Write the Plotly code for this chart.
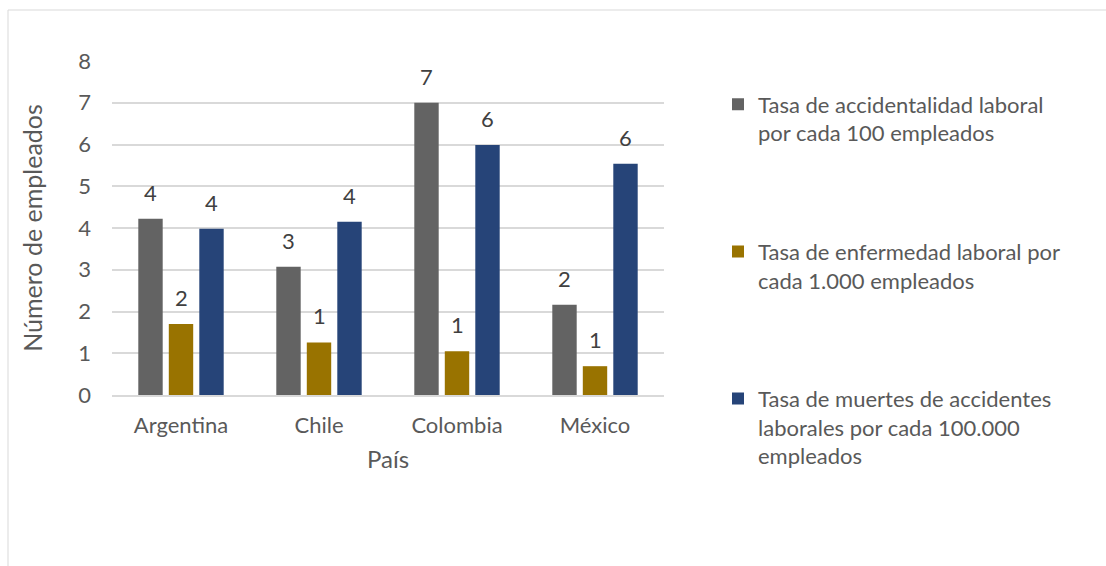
import plotly.graph_objects as go

# Data
paises = ["Argentina", "Chile", "Colombia", "México"]
accidentalidad = [4.22, 3.07, 7.00, 2.16]
enfermedad = [1.70, 1.26, 1.05, 0.69]
muertes = [3.98, 4.15, 5.99, 5.54]

series_names = [
    "Tasa de accidentalidad laboral<br>por cada 100 empleados",
    "Tasa de enfermedad laboral por<br>cada 1.000 empleados",
    "Tasa de muertes de accidentes<br>laborales por cada 100.000<br>empleados",
]
series_values = [accidentalidad, enfermedad, muertes]
series_colors = ["#636363", "#997300", "#264478"]

y_ticks = [0, 1, 2, 3, 4, 5, 6, 7, 8]

W, H = 1106, 566
M_L, M_R, M_T, M_B = 112, 442, 61, 171
BARGAP = 0.337
FONT = "Lato"
TXT = "#595959"

fig = go.Figure()
for i, (name, vals, col) in enumerate(zip(series_names, series_values, series_colors)):
    fig.add_trace(go.Bar(
        x=paises, y=vals, name=name,
        marker=dict(color=col, line=dict(width=0)),
        legendgroup=f"g{i}",
        hoverinfo="x+y",
    ))

# Value labels above each bar (rounded to whole numbers)
plot_w = W - M_L - M_R
plot_h = H - M_T - M_B
slot = plot_w / len(paises) * (1 - BARGAP) / len(series_values)
annotations = []
for i, vals in enumerate(series_values):
    shift = (i - (len(series_values) - 1) / 2) * slot
    for p, v in zip(paises, vals):
        annotations.append(dict(
            x=p, y=v, xref="x", yref="y", text=f"{v:.0f}",
            showarrow=False, xshift=shift, yshift=11, yanchor="bottom",
            font=dict(family=FONT, size=22, color="#404040"),
        ))

fig.update_layout(
    width=W, height=H,
    margin=dict(l=M_L, r=M_R, t=M_T, b=M_B),
    paper_bgcolor="white", plot_bgcolor="white",
    barmode="group", bargap=BARGAP, bargroupgap=0.2,
    font=dict(family=FONT, color=TXT, size=22),
    annotations=annotations,
    showlegend=True,
    legend=dict(
        x=(718 - M_L) / plot_w, y=0.933, xanchor="left", yanchor="top",
        font=dict(family=FONT, size=22, color=TXT),
        tracegroupgap=87, valign="top",
        bgcolor="rgba(0,0,0,0)",
        maxheight=520,
    ),
    xaxis=dict(
        showgrid=False, showline=True, linecolor="#d9d9d9", linewidth=1.5,
        ticks="", tickfont=dict(family=FONT, size=22, color=TXT),
        ticklabelstandoff=10,
        title=dict(text="País", font=dict(family=FONT, size=24, color=TXT), standoff=14),
    ),
    yaxis=dict(
        range=[0, 8], tickvals=y_ticks, showgrid=True, gridcolor="#d9d9d9", gridwidth=1.5,
        zeroline=False, showline=False, ticks="",
        tickfont=dict(family=FONT, size=22, color=TXT),
        ticklabelstandoff=20,
        title=dict(text="Número de empleados", font=dict(family=FONT, size=25, color=TXT), standoff=28),
    ),
    shapes=[dict(
        type="rect", xref="paper", yref="paper",
        x0=(8 - M_L) / plot_w, x1=(W + 20 - M_L) / plot_w,
        y0=(H - M_B - (H + 20)) / plot_h, y1=(H - M_B - 10) / plot_h,
        line=dict(color="#d9d9d9", width=1), layer="below",
    )],
)

fig.write_html("out.html")
